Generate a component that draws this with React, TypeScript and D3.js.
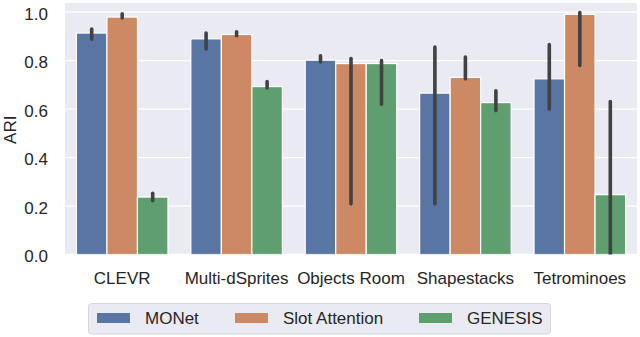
import React from "react";
import * as d3 from "d3";

const categories = ["CLEVR", "Multi-dSprites", "Objects Room", "Shapestacks", "Tetrominoes"];
const seriesNames = ["MONet", "Slot Attention", "GENESIS"];
const monet = [0.914, 0.89, 0.802, 0.666, 0.725];
const monetLo = [0.889, 0.848, 0.795, 0.209, 0.6];
const monetHi = [0.93, 0.914, 0.82, 0.856, 0.866];
const slot = [0.98, 0.908, 0.788, 0.731, 0.991];
const slotLo = [0.976, 0.903, 0.209, 0.725, 0.78];
const slotHi = [0.993, 0.919, 0.809, 0.815, 0.999];
const genesis = [0.237, 0.693, 0.788, 0.627, 0.247];
const genesisLo = [0.222, 0.687, 0.62, 0.594, -0.1];
const genesisHi = [0.253, 0.714, 0.8, 0.676, 0.631];
const yTicks = [0, 0.2, 0.4, 0.6, 0.8, 1.0];

const colors = ["#5875a4", "#cc8963", "#5f9e6e"];
const FONT = "'Liberation Sans', Arial, sans-serif";
const FS = 17;

export default function App() {
  const W = 640, H = 337;
  const left = 65, right = 637, top = 3, bottom = 254.5;
  const x0 = d3.scaleBand<string>().domain(categories).range([left, right]).paddingInner(0.2).paddingOuter(0.1);
  const x1 = d3.scaleBand<number>().domain([0, 1, 2]).range([0, x0.bandwidth()]);
  const y = d3.scaleLinear().domain([0, 1.038]).range([bottom, top]);
  const vals = [monet, slot, genesis];
  const los = [monetLo, slotLo, genesisLo];
  const his = [monetHi, slotHi, genesisHi];

  return (
    <svg width={W} height={H} style={{ position: "absolute", left: 0, top: 0, display: "block" }} fontFamily={FONT}>
      <defs>
        <clipPath id="plotclip">
          <rect x={left} y={top} width={right - left} height={bottom - top} />
        </clipPath>
      </defs>
      <rect x={0} y={0} width={W} height={H} fill="#ffffff" />
      <rect x={left} y={top} width={right - left} height={bottom - top} fill="#eaeaf2" />
      {yTicks.map((t) => (
        <g key={t}>
          <line x1={left} x2={right} y1={y(t)} y2={y(t)} stroke="#ffffff" strokeWidth={1.3} />
          <text x={48} y={y(t) + 7.5} textAnchor="end" fontSize={FS} fill="#262626">
            {t.toFixed(1)}
          </text>
        </g>
      ))}
      <g clipPath="url(#plotclip)">
        {categories.map((c, i) => (
          <g key={c}>
            {vals.map((v, s) => {
              const bx = (x0(c) as number) + (x1(s) as number);
              const bw = x1.bandwidth();
              return (
                <rect key={s} x={bx} y={y(v[i])} width={bw} height={y(0) - y(v[i])} fill={colors[s]} stroke="#ffffff" strokeWidth={1.2} />
              );
            })}
            {vals.map((v, s) => {
              const cx = (x0(c) as number) + (x1(s) as number) + x1.bandwidth() / 2;
              return (
                <line key={"e" + s} x1={cx} x2={cx} y1={y(los[s][i])} y2={y(his[s][i])} stroke="#424242" strokeWidth={3.6} strokeLinecap="round" />
              );
            })}
          </g>
        ))}
      </g>
      {categories.map((c) => (
        <text key={c} x={(x0(c) as number) + x0.bandwidth() / 2} y={284} textAnchor="middle" fontSize={FS} fill="#262626">
          {c}
        </text>
      ))}
      <text transform={`translate(16,${(top + bottom) / 2 + 1}) rotate(-90)`} textAnchor="middle" fontSize={FS} fill="#262626">
        ARI
      </text>
      <g>
        <rect x={88.5} y={303.5} width={462} height={30.5} rx={3} fill="#eaeaf2" stroke="#d6d6dc" strokeWidth={1} />
        {seriesNames.map((n, s) => {
          const px = [97, 235, 419][s];
          return (
            <g key={n}>
              <rect x={px} y={313} width={33} height={10} fill={colors[s]} />
              <text x={px + 48} y={324} fontSize={FS} fill="#262626">{n}</text>
            </g>
          );
        })}
      </g>
    </svg>
  );
}
